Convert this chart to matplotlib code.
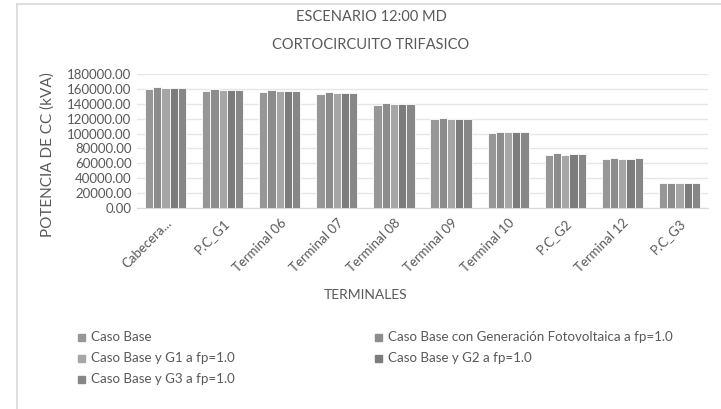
import matplotlib
matplotlib.use("Agg")
import matplotlib.pyplot as plt
from matplotlib.patches import Rectangle
import numpy as np

plt.rcParams['font.family'] = ['Lato', 'DejaVu Sans']

terminales = ["Cabecera...", "P.C_G1", "Terminal 06", "Terminal 07", "Terminal 08",
              "Terminal 09", "Terminal 10", "P.C_G2", "Terminal 12", "P.C_G3"]

caso_base = [160500, 157500, 156000, 153000, 139000, 119300, 100400, 71100, 65300, 33300]
caso_fv = [163000, 159500, 158500, 155500, 140900, 121000, 102600, 73400, 66600, 33300]
caso_g1 = [161500, 158500, 157500, 154500, 140000, 119700, 101700, 71100, 65300, 33300]
caso_g2 = [161500, 158500, 157500, 154500, 140000, 119700, 101700, 72500, 65300, 33300]
caso_g3 = [161500, 158500, 157500, 154500, 140000, 119700, 101700, 72500, 66600, 33300]

series_names = ["Caso Base",
                "Caso Base con Generación Fotovoltaica a fp=1.0",
                "Caso Base y G1 a fp=1.0",
                "Caso Base y G2 a fp=1.0",
                "Caso Base y G3 a fp=1.0"]
series_vals = [caso_base, caso_fv, caso_g1, caso_g2, caso_g3]
colors = ["#979797", "#8c8c8c", "#a6a6a6", "#7c7c7c", "#878787"]

yticks = np.arange(0, 180001, 20000)
text_color = "#595959"

fig = plt.figure(figsize=(7.21, 4.09), dpi=100)
W, H = 721, 409
ax = fig.add_axes([137 / W, 1 - 208 / H, (708 - 137) / W, (208 - 74) / H])

x = np.arange(len(terminales))
group_w = 0.72
bw = group_w / len(series_vals)
for i, (vals, c) in enumerate(zip(series_vals, colors)):
    ax.bar(x - group_w / 2 + bw * (i + 0.5), vals, width=bw, color=c,
           edgecolor="white", linewidth=0.6, zorder=3)

ax.set_xlim(-0.5, len(terminales) - 0.5)
ax.set_ylim(0, 180000)
ax.set_yticks(yticks)
ax.set_yticklabels([f"{v:.2f}" for v in yticks], color=text_color, fontsize=9.5)
ax.set_xticks(x)
ax.set_xticklabels(terminales, rotation=45, ha="right", rotation_mode="anchor",
                   color=text_color, fontsize=9.5)
ax.tick_params(axis="both", length=0, pad=4)
ax.tick_params(axis="x", pad=6)
ax.grid(axis="y", color="#e6e6e6", linewidth=1, zorder=0)
for s in ["top", "right", "left"]:
    ax.spines[s].set_visible(False)
ax.spines["bottom"].set_color("#d9d9d9")

fig.text(371 / W, 1 - 17 / H, "ESCENARIO 12:00 MD", ha="center", va="center",
         color=text_color, fontsize=10.5)
fig.text(371 / W, 1 - 45 / H, "CORTOCIRCUITO TRIFASICO", ha="center", va="center",
         color=text_color, fontsize=10.5)
fig.text(48 / W, 1 - 155 / H, "POTENCIA DE CC (kVA)", rotation=90, ha="center",
         va="center", color=text_color, fontsize=11)
fig.text(366 / W, 1 - 295 / H, "TERMINALES", ha="center", va="center",
         color=text_color, fontsize=10)

# legend laid out in two columns
legend_pos = [(81, 337), (378, 337), (81, 358), (378, 358), (81, 379)]
for (lx, ly), name, c in zip(legend_pos, series_names, colors):
    fig.patches.append(Rectangle(((lx - 3.5) / W, 1 - (ly + 3.5) / H), 7 / W, 7 / H,
                                 transform=fig.transFigure, color=c))
    fig.text((lx + 10) / W, 1 - ly / H, name, ha="left", va="center",
             color=text_color, fontsize=9.6)

# chart frame
fig.add_artist(plt.Line2D([17 / W, 17 / W], [0, 1 - 3.5 / H], transform=fig.transFigure,
                          color="#d9d9d9", linewidth=1.2))
fig.add_artist(plt.Line2D([17 / W, 1], [1 - 3.5 / H, 1 - 3.5 / H], transform=fig.transFigure,
                          color="#d9d9d9", linewidth=1.2))

fig.savefig("out.png", dpi=100)
